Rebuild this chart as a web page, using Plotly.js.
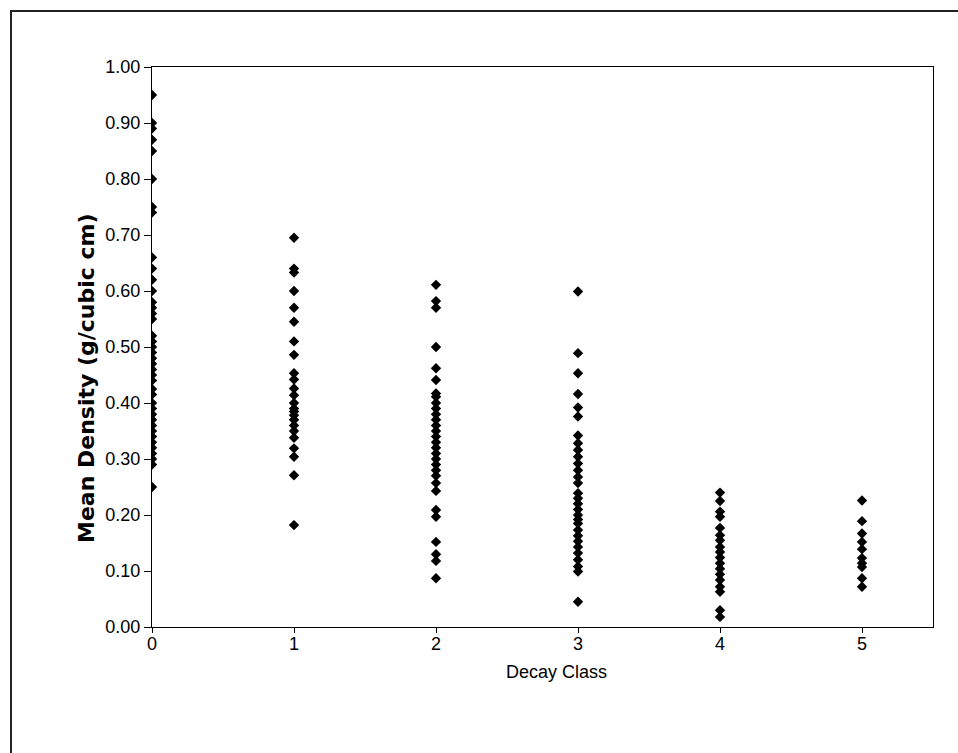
<!DOCTYPE html>
<html>
<head>
<meta charset="utf-8">
<script src="https://cdn.plot.ly/plotly-3.0.1.min.js"></script>
<style>html,body{margin:0;padding:0;background:#fff;}</style>
</head>
<body>
<div id="chart" style="width:958px;height:753px;"></div>
<script>
const class0 = [0.95,0.90,0.89,0.87,0.85,0.80,0.75,0.74,0.66,0.64,0.62,0.60,0.58,0.57,0.56,0.55,0.52,0.51,0.50,0.49,0.48,0.47,0.46,0.45,0.44,0.425,0.415,0.40,0.39,0.38,0.37,0.36,0.35,0.34,0.33,0.32,0.31,0.30,0.29,0.25];
const class1 = [0.695,0.64,0.633,0.60,0.57,0.545,0.51,0.486,0.453,0.442,0.426,0.414,0.40,0.39,0.385,0.378,0.37,0.36,0.35,0.338,0.319,0.304,0.271,0.182];
const class2 = [0.611,0.582,0.570,0.50,0.462,0.441,0.417,0.411,0.40,0.39,0.38,0.37,0.36,0.35,0.34,0.33,0.32,0.31,0.30,0.29,0.28,0.27,0.257,0.243,0.209,0.197,0.152,0.13,0.118,0.087];
const class3 = [0.599,0.489,0.453,0.416,0.392,0.376,0.342,0.328,0.316,0.304,0.292,0.28,0.268,0.257,0.239,0.23,0.22,0.21,0.2,0.192,0.185,0.173,0.163,0.153,0.143,0.132,0.12,0.108,0.099,0.045];
const class4 = [0.24,0.225,0.206,0.197,0.177,0.164,0.155,0.143,0.134,0.124,0.114,0.104,0.094,0.084,0.072,0.063,0.030,0.018];
const class5 = [0.226,0.189,0.167,0.152,0.139,0.123,0.114,0.107,0.087,0.072];
const classes = [class0, class1, class2, class3, class4, class5];
const tickLabels = ['0','1','2','3','4','5'];
const xTitle = 'Decay Class';
const yTitle = 'Mean Density (g/cubic cm)';

const xs = [], ys = [];
classes.forEach((vals, i) => vals.forEach(v => { xs.push(i); ys.push(v); }));

const trace = {
  x: xs, y: ys, type: 'scatter', mode: 'markers',
  marker: {symbol: 'diamond', size: 8, color: '#000000'},
  hoverinfo: 'x+y'
};

const layout = {
  width: 958, height: 753,
  margin: {l: 152, r: 25, t: 67, b: 126},
  paper_bgcolor: '#ffffff', plot_bgcolor: '#ffffff',
  showlegend: false,
  font: {family: 'Liberation Sans, Arial, sans-serif', size: 18, color: '#000'},
  xaxis: {
    range: [0, 5.5], tickvals: [0,1,2,3,4,5], ticktext: tickLabels,
    showgrid: false, zeroline: false, showline: true, linecolor: '#000', linewidth: 1,
    mirror: true, ticks: 'outside', ticklen: 5, tickcolor: '#000',
    tickfont: {size: 18}, ticklabelstandoff: -5
  },
  yaxis: {
    range: [0, 1], dtick: 0.1, tickformat: '.2f',
    showgrid: false, zeroline: false, showline: true, linecolor: '#000', linewidth: 1,
    mirror: true, ticks: 'outside', ticklen: 7, tickcolor: '#000',
    tickfont: {size: 18}
  },
  annotations: [
    {text: xTitle, xref: 'paper', yref: 'paper', x: (556 - 152) / 781, y: (627 - 672) / 560,
     xanchor: 'center', yanchor: 'middle', showarrow: false, font: {size: 18}},
    {text: '<b>' + yTitle + '</b>', xref: 'paper', yref: 'paper', x: (86 - 152) / 781, y: (627 - 378) / 560,
     xanchor: 'center', yanchor: 'middle', textangle: -90, showarrow: false,
     font: {size: 22, family: 'DejaVu Sans, sans-serif'}}
  ],
  shapes: [{
    type: 'rect', xref: 'paper', yref: 'paper',
    x0: (11 - 152) / 781, x1: (975 - 152) / 781,
    y0: (627 - 770) / 560, y1: (627 - 11) / 560,
    line: {color: '#222', width: 2}, fillcolor: 'rgba(0,0,0,0)', layer: 'below'
  }]
};

Plotly.newPlot('chart', [trace], layout, {displayModeBar: false, staticPlot: true});
</script>
</body>
</html>
